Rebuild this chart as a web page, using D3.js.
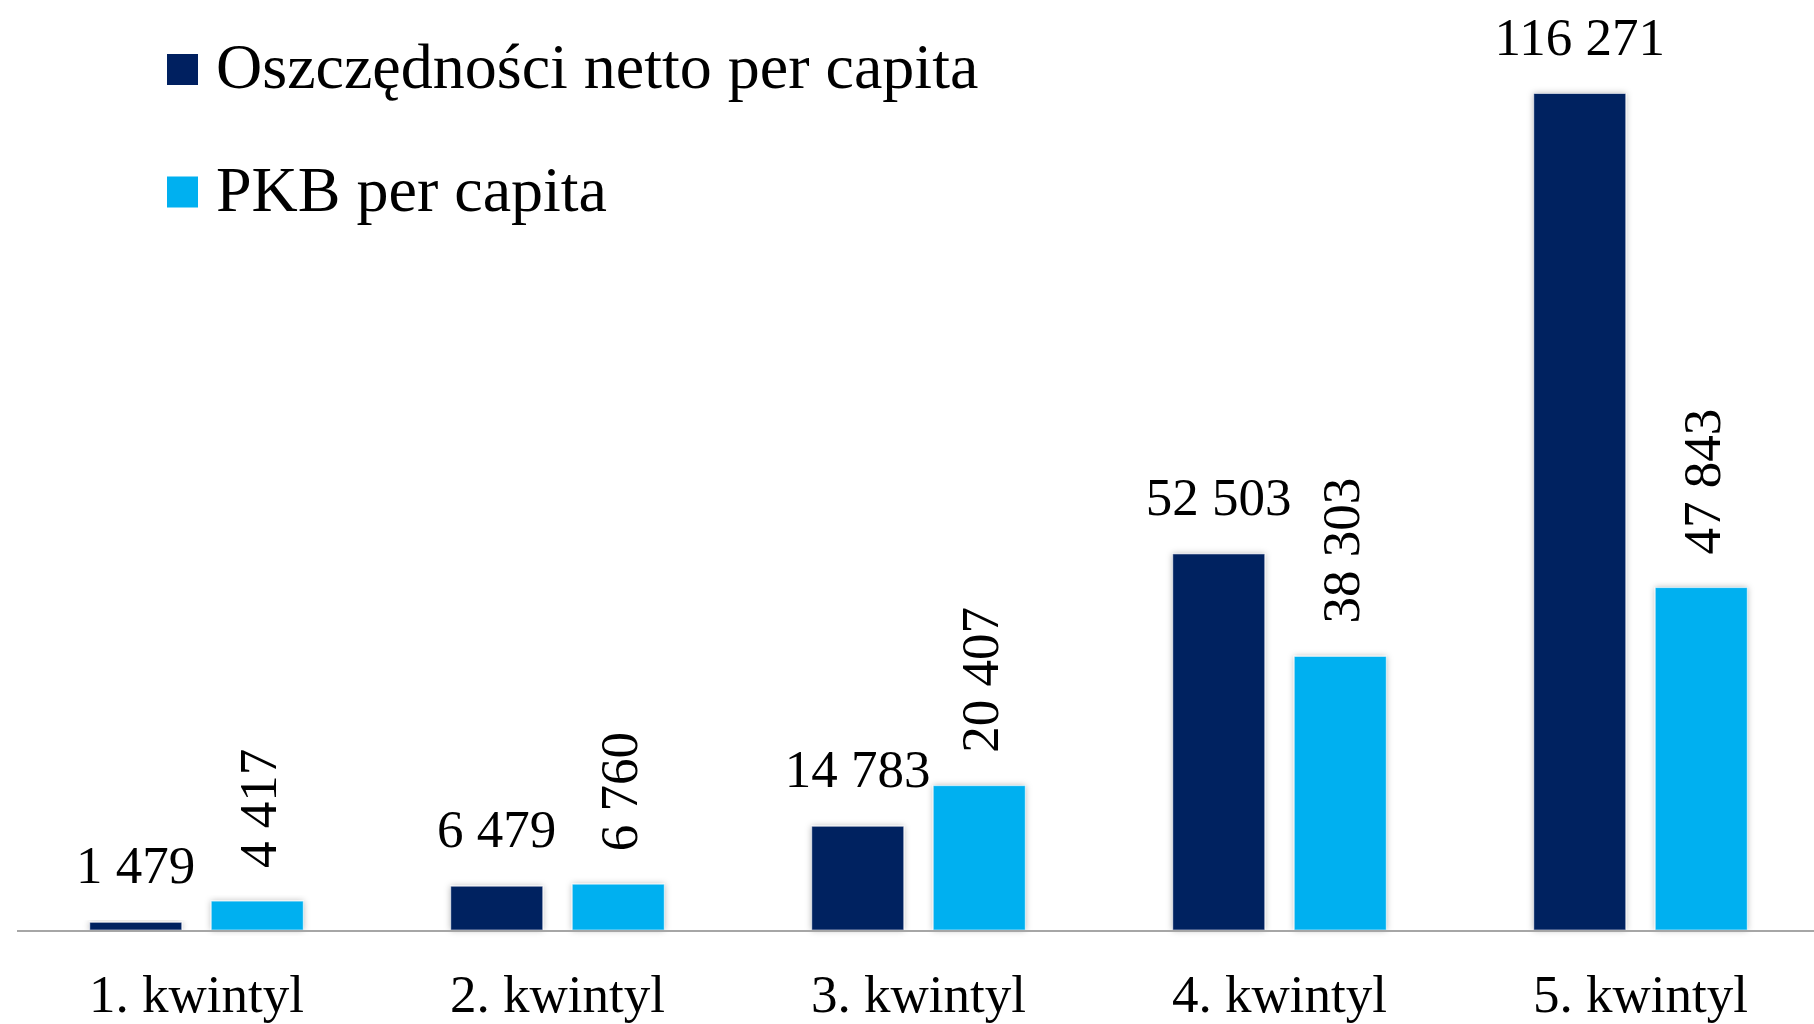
<!DOCTYPE html>
<html>
<head>
<meta charset="utf-8">
<script src="https://cdn.jsdelivr.net/npm/d3@7"></script>
<style>
  html, body { margin: 0; padding: 0; background: #ffffff; }
  svg { display: block; }
  text { font-family: "Liberation Serif", "Times New Roman", serif; fill: #000; }
</style>
</head>
<body>
<svg id="chart" width="1814" height="1024"></svg>
<script>
// ---- data ----
const categories = ["1. kwintyl", "2. kwintyl", "3. kwintyl", "4. kwintyl", "5. kwintyl"];
const seriesNames = ["Oszczędności netto per capita", "PKB per capita"];
const savings = [1479, 6479, 14783, 52503, 116271];
const gdp = [4417, 6760, 20407, 38303, 47843];
const savingsLabels = ["1 479", "6 479", "14 783", "52 503", "116 271"];
const gdpLabels = ["4 417", "6 760", "20 407", "38 303", "47 843"];
const colors = ["#002060", "#00B0F0"];

const rows = categories.map((c, i) => ({
  cat: c,
  vals: [
    { s: 0, v: savings[i], label: savingsLabels[i] },
    { s: 1, v: gdp[i], label: gdpLabels[i] }
  ]
}));

// ---- layout ----
const W = 1814, H = 1024;
const svg = d3.select("#chart");

const defs = svg.append("defs");
const f = defs.append("filter").attr("id", "shadow")
  .attr("x", "-20%").attr("y", "-20%").attr("width", "140%").attr("height", "140%");
f.append("feDropShadow").attr("dx", 0).attr("dy", 0)
  .attr("stdDeviation", 3).attr("flood-color", "#000").attr("flood-opacity", 0.28);

const x0 = d3.scaleBand().domain(categories).range([16, 1821]).paddingInner(0).paddingOuter(0);
const x1 = d3.scaleBand().domain([0, 1]).range([0, x0.bandwidth()])
  .paddingInner(0.243).paddingOuter(0.607);
const y = d3.scaleLinear().domain([0, 116271]).range([933, 93.5]);
const axisY = y(0) - 3;

const g = svg.append("g");
const groups = g.selectAll("g.grp").data(rows).enter().append("g")
  .attr("class", "grp")
  .attr("transform", d => `translate(${x0(d.cat)},0)`);

groups.selectAll("rect").data(d => d.vals).enter().append("rect")
  .attr("x", d => x1(d.s))
  .attr("y", d => y(d.v))
  .attr("width", x1.bandwidth())
  .attr("height", d => Math.max(0, axisY - y(d.v)))
  .attr("fill", d => colors[d.s])
  .attr("stroke", "rgba(255,255,255,0.55)")
  .attr("stroke-width", 1)
  .attr("filter", "url(#shadow)");

// horizontal labels for savings series
groups.selectAll("text.hl").data(d => d.vals.filter(v => v.s === 0)).enter().append("text")
  .attr("class", "hl")
  .attr("x", d => x1(d.s) + x1.bandwidth() / 2)
  .attr("y", d => y(d.v) - 39)
  .attr("text-anchor", "middle")
  .style("font-size", "53px")
  .text(d => d.label);

// rotated labels for GDP series
groups.selectAll("text.vl").data(d => d.vals.filter(v => v.s === 1)).enter().append("text")
  .attr("class", "vl")
  .attr("transform", d => `translate(${x1(d.s) + x1.bandwidth() / 2},${y(d.v) - 33}) rotate(-90)`)
  .attr("text-anchor", "start")
  .attr("dy", "0.35em")
  .style("font-size", "53px")
  .text(d => d.label);

// category axis
const xAxis = d3.axisBottom(x0).tickSize(0).tickPadding(0);
const ax = svg.append("g").attr("transform", `translate(0,${axisY + 1})`).call(xAxis);
ax.select(".domain").remove();
ax.selectAll("text")
  .attr("y", 1012 - (axisY + 1))
  .attr("dy", 0)
  .style("font-size", "53px")
  .style("font-family", '"Liberation Serif", "Times New Roman", serif')
  .attr("fill", "#000");

svg.append("line")
  .attr("x1", 17).attr("x2", W)
  .attr("y1", axisY + 1).attr("y2", axisY + 1)
  .attr("stroke", "#a6a6a6").attr("stroke-width", 2);

// legend
const legend = svg.append("g");
const legendY = [88, 210.5];
seriesNames.forEach((name, i) => {
  legend.append("rect")
    .attr("x", 167).attr("y", legendY[i] - 34)
    .attr("width", 31).attr("height", 31)
    .attr("fill", colors[i]);
  legend.append("text")
    .attr("x", 216).attr("y", legendY[i])
    .style("font-size", "64px")
    .text(name);
});
</script>
</body>
</html>
